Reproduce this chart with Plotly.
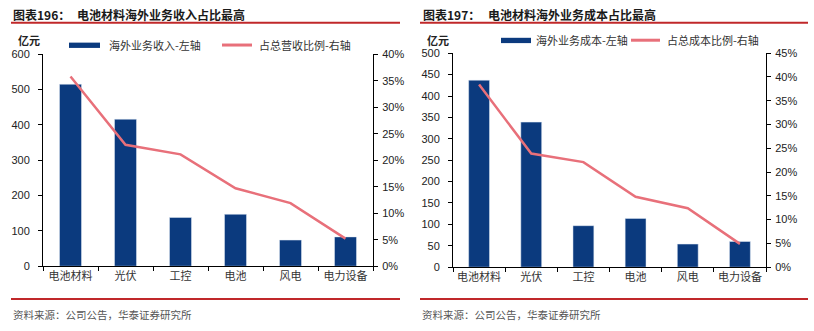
import plotly.graph_objects as go

categories = ["电池材料", "光伏", "工控", "电池", "风电", "电力设备"]
revenue = [515, 416, 138, 147, 74, 83]
revenue_share = [35.8, 22.9, 21.1, 14.7, 11.9, 5.2]
cost = [437, 339, 97, 114, 54, 60]
cost_share = [38.4, 23.9, 22.1, 14.8, 12.4, 4.9]

left_ticks = [0, 100, 200, 300, 400, 500, 600]
left_pct_ticks = [0, 5, 10, 15, 20, 25, 30, 35, 40]
right_ticks = [0, 50, 100, 150, 200, 250, 300, 350, 400, 450, 500]
right_pct_ticks = [0, 5, 10, 15, 20, 25, 30, 35, 40, 45]

BAR = "#0B3A7E"
LINE = "#E8707A"
RED = "#C0282A"
W, H = 814, 331
NUM_FONT = "Liberation Sans, Arial, sans-serif"
CJK = "Noto Sans CJK SC"

def px(x):
    return x / W

def py(y):
    return 1 - y / H

fig = go.Figure()
fig.add_trace(go.Bar(x=categories, y=revenue, marker_color=BAR, width=0.4,
                     xaxis="x", yaxis="y", showlegend=False))
fig.add_trace(go.Scatter(x=categories, y=revenue_share, mode="lines",
                         line=dict(color=LINE, width=2.5), xaxis="x", yaxis="y2", showlegend=False))
fig.add_trace(go.Bar(x=categories, y=cost, marker_color=BAR, width=0.4,
                     xaxis="x2", yaxis="y3", showlegend=False))
fig.add_trace(go.Scatter(x=categories, y=cost_share, mode="lines",
                         line=dict(color=LINE, width=2.5), xaxis="x2", yaxis="y4", showlegend=False))

xcommon = dict(showline=True, linecolor="black", linewidth=1, ticks="outside",
               tickson="boundaries", ticklen=4, tickcolor="black", showgrid=False,
               tickangle=0,
               tickfont=dict(family=CJK, size=11, color="#333"), fixedrange=True)
ycommon = dict(showline=True, linecolor="black", linewidth=1, ticks="outside",
               ticklen=4, tickcolor="black", showgrid=False, zeroline=False,
               tickfont=dict(family=NUM_FONT, size=11, color="#222"))

fig.update_layout(
    width=W, height=H, margin=dict(l=0, r=0, t=0, b=0),
    paper_bgcolor="white", plot_bgcolor="white", bargap=0.6,
    xaxis=dict(domain=[px(43), px(373)], anchor="y", **xcommon),
    yaxis=dict(domain=[py(270), py(50)], range=[0, 600], tickvals=left_ticks, anchor="x",
               ticklabelstandoff=6, **ycommon),
    yaxis2=dict(range=[0, 40], tickvals=left_pct_ticks,
                ticktext=[f"{v}%" for v in left_pct_ticks], overlaying="y", side="right",
                anchor="x", ticklabelstandoff=2, **ycommon),
    xaxis2=dict(domain=[px(453), px(766)], anchor="y3", **xcommon),
    yaxis3=dict(domain=[py(271), py(49)], range=[0, 500], tickvals=right_ticks, anchor="x2",
                ticklabelstandoff=6, **ycommon),
    yaxis4=dict(range=[0, 45], tickvals=right_pct_ticks,
                ticktext=[f"{v}%" for v in right_pct_ticks], overlaying="y3", side="right",
                anchor="x2", ticklabelstandoff=2, **ycommon),
)

shapes = []
annots = []

def text(x, y, s, size=11, color="#333", bold=False, family=CJK, xanchor="left"):
    annots.append(dict(x=px(x), y=py(y), xref="paper", yref="paper", text=f"<b>{s}</b>" if bold else s,
                       showarrow=False, xanchor=xanchor, yanchor="middle",
                       font=dict(family=family, size=size, color=color)))

def hline(x0, x1, y, color, width):
    shapes.append(dict(type="line", xref="paper", yref="paper", x0=px(x0), x1=px(x1),
                       y0=py(y), y1=py(y), line=dict(color=color, width=width)))

def rect(x0, x1, y0, y1, color):
    shapes.append(dict(type="rect", xref="paper", yref="paper", x0=px(x0), x1=px(x1),
                       y0=py(y1), y1=py(y0), fillcolor=color, line=dict(width=0)))

# Left panel decorations
text(11, 9, "图表196：", size=12, color="#1a1a1a", bold=True)
text(75, 9, "电池材料海外业务收入占比最高", size=12, color="#1a1a1a", bold=True)
hline(11, 400, 17.5, RED, 2)
text(16, 35, "亿元", size=11, color="#222", bold=True)
rect(69, 100, 38, 43.5, BAR)
text(107, 40, "海外业务收入-左轴", size=11, color="#333")
hline(222, 252, 40.5, LINE, 3)
text(257, 40, "占总营收比例-右轴", size=11, color="#333")
hline(11, 400, 304, RED, 2)
text(11, 320, "资料来源：公司公告，华泰证券研究所", size=10.5, color="#555")

# Right panel decorations
text(421, 9, "图表197：", size=12, color="#1a1a1a", bold=True)
text(486, 9, "电池材料海外业务成本占比最高", size=12, color="#1a1a1a", bold=True)
hline(420, 808, 17.5, RED, 2)
text(425, 35, "亿元", size=11, color="#222", bold=True)
rect(501, 531, 33, 38.5, BAR)
text(534, 35, "海外业务成本-左轴", size=11, color="#333")
hline(631, 660, 35.5, LINE, 3)
text(665, 35, "占总成本比例-右轴", size=11, color="#333")
hline(420, 808, 304, RED, 2)
text(420, 320, "资料来源：公司公告，华泰证券研究所", size=10.5, color="#555")

fig.update_layout(shapes=shapes, annotations=annots)
fig.write_html("out.html")
